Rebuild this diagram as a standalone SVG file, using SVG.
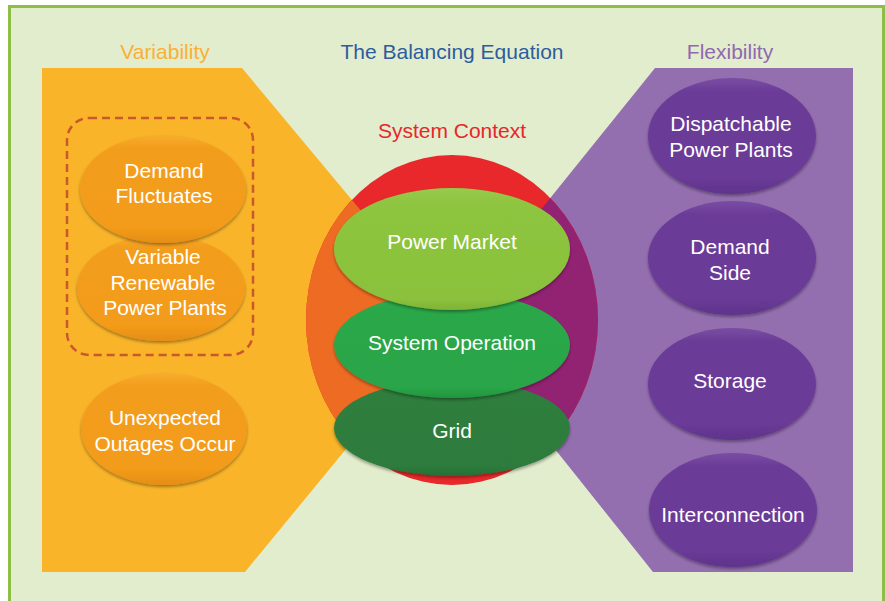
<svg xmlns="http://www.w3.org/2000/svg" width="885" height="601" viewBox="0 0 885 601">
  <defs>
    <style>
      .title { font-family: "Liberation Sans", Arial, sans-serif; font-size: 21px; text-anchor: middle; }
      .label { font-family: "Liberation Sans", Arial, sans-serif; font-size: 21px; fill: #ffffff; text-anchor: middle; }
      .orange-node { fill: url(#gOrange); filter: url(#shade); }
      .purple-node { fill: url(#gPurple); filter: url(#shade); }
      .rim { fill: none; stroke: #ffffff; stroke-opacity: 0.25; stroke-width: 1.2; }
    </style>
    <linearGradient id="gOrange" x1="0" y1="0" x2="0" y2="1">
      <stop offset="0" stop-color="#f7ad2c"/>
      <stop offset="0.12" stop-color="#f39d1c"/>
      <stop offset="0.85" stop-color="#f39c1a"/>
      <stop offset="1" stop-color="#e58d14"/>
    </linearGradient>
    <linearGradient id="gPurple" x1="0" y1="0" x2="0" y2="1">
      <stop offset="0" stop-color="#7a4ea4"/>
      <stop offset="0.12" stop-color="#6a3b97"/>
      <stop offset="0.85" stop-color="#6a3b97"/>
      <stop offset="1" stop-color="#5f338b"/>
    </linearGradient>
    <linearGradient id="gMarket" x1="0" y1="0" x2="0" y2="1">
      <stop offset="0" stop-color="#97ca4a"/>
      <stop offset="0.15" stop-color="#8dc43f"/>
      <stop offset="0.9" stop-color="#8bc23d"/>
      <stop offset="1" stop-color="#7fb336"/>
    </linearGradient>
    <linearGradient id="gOperation" x1="0" y1="0" x2="0" y2="1">
      <stop offset="0" stop-color="#34ad52"/>
      <stop offset="0.15" stop-color="#2aa84a"/>
      <stop offset="0.9" stop-color="#29a548"/>
      <stop offset="1" stop-color="#22953f"/>
    </linearGradient>
    <linearGradient id="gGrid" x1="0" y1="0" x2="0" y2="1">
      <stop offset="0" stop-color="#378645"/>
      <stop offset="0.15" stop-color="#2e7e3d"/>
      <stop offset="0.9" stop-color="#2d7c3c"/>
      <stop offset="1" stop-color="#266f34"/>
    </linearGradient>
    <filter id="shade" x="-10%" y="-10%" width="120%" height="125%">
      <feDropShadow dx="0" dy="2" stdDeviation="1.5" flood-color="#000000" flood-opacity="0.35"/>
    </filter>
    <clipPath id="contextClip">
      <ellipse cx="452" cy="320" rx="146" ry="165"/>
    </clipPath>
  </defs>

  <!-- page background and frame -->
  <rect x="9.5" y="6.5" width="874" height="620" fill="#e2edcd" stroke="#8dbf47" stroke-width="3"/>

  <!-- bow-tie bands -->
  <polygon points="42,68 242,68 452,320 245,572 42,572" fill="#f9b42a"/>
  <polygon points="655,68 853,68 853,572 653,572 452,320" fill="#946fb0"/>

  <!-- system context -->
  <g id="system-context">
    <ellipse cx="452" cy="320" rx="146" ry="165" fill="#e8282a"/>
    <g clip-path="url(#contextClip)">
      <polygon points="42,68 242,68 452,320 245,572 42,572" fill="#ee6b24"/>
      <polygon points="655,68 853,68 853,572 653,572 452,320" fill="#922372"/>
    </g>
    <text class="title" x="452" y="138" fill="#e8262a">System Context</text>
  </g>

  <!-- headings -->
  <text class="title" x="165" y="58.5" fill="#fbb034">Variability</text>
  <text class="title" x="452" y="58.5" fill="#2e5c9f">The Balancing Equation</text>
  <text class="title" x="730" y="58.5" fill="#9168b0">Flexibility</text>

  <!-- variability sources -->
  <rect x="67" y="118" width="186" height="237" rx="22" fill="none" stroke="#c9582b" stroke-width="2.5" stroke-dasharray="8 5"/>

  <g id="variable-renewable">
    <ellipse class="orange-node" cx="161" cy="288" rx="84" ry="53"/>
    <text class="label" x="163" y="264">Variable</text>
    <text class="label" x="163" y="290">Renewable</text>
    <text class="label" x="165" y="315">Power Plants</text>
  </g>
  <g id="demand-fluctuates">
    <ellipse class="orange-node" cx="163" cy="189" rx="83" ry="54"/>
    <text class="label" x="164" y="178">Demand</text>
    <text class="label" x="164" y="203">Fluctuates</text>
  </g>
  <g id="unexpected-outages">
    <ellipse class="orange-node" cx="164" cy="429" rx="83" ry="56"/>
    <text class="label" x="165" y="425">Unexpected</text>
    <text class="label" x="165" y="451">Outages Occur</text>
  </g>

  <!-- balancing layers -->
  <g id="grid">
    <ellipse cx="452" cy="428" rx="118" ry="48" fill="url(#gGrid)" filter="url(#shade)"/>
    <text class="label" x="452" y="438">Grid</text>
  </g>
  <g id="system-operation">
    <ellipse cx="452" cy="345" rx="118" ry="53" fill="url(#gOperation)" filter="url(#shade)"/>
    <text class="label" x="452" y="350">System Operation</text>
  </g>
  <g id="power-market">
    <ellipse cx="452" cy="249" rx="118" ry="61" fill="url(#gMarket)" filter="url(#shade)"/>
    <text class="label" x="452" y="249">Power Market</text>
  </g>

  <!-- flexibility options -->
  <g id="dispatchable-plants">
    <ellipse class="purple-node" cx="732" cy="136" rx="84" ry="58"/>
    <text class="label" x="731" y="131">Dispatchable</text>
    <text class="label" x="731" y="157">Power Plants</text>
  </g>
  <g id="demand-side">
    <ellipse class="purple-node" cx="732" cy="258" rx="84" ry="57"/>
    <text class="label" x="730" y="254">Demand</text>
    <text class="label" x="730" y="280">Side</text>
  </g>
  <g id="storage">
    <ellipse class="purple-node" cx="732" cy="384" rx="84" ry="56"/>
    <text class="label" x="730" y="388">Storage</text>
  </g>
  <g id="interconnection">
    <ellipse class="purple-node" cx="733" cy="510" rx="84" ry="57"/>
    <text class="label" x="733" y="522">Interconnection</text>
  </g>
</svg>
